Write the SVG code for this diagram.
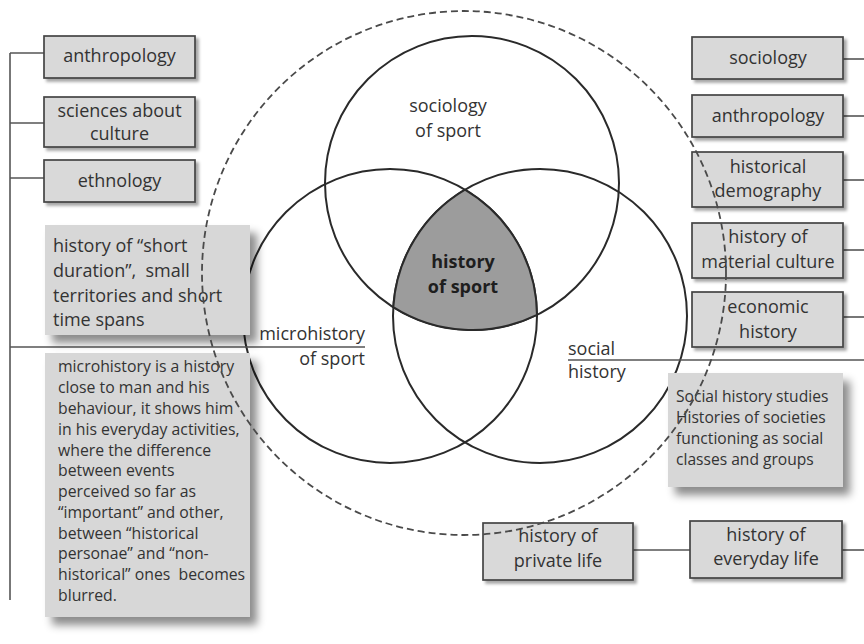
<svg xmlns="http://www.w3.org/2000/svg" width="864" height="644" viewBox="0 0 864 644">
<defs>
<filter id="sh" x="-10%" y="-20%" width="130%" height="150%">
<feDropShadow dx="3" dy="3" stdDeviation="1.8" flood-color="#000" flood-opacity="0.35"/>
</filter>
<filter id="shbig" x="-10%" y="-10%" width="130%" height="130%">
<feDropShadow dx="7" dy="8" stdDeviation="4.5" flood-color="#000" flood-opacity="0.45"/>
</filter>
</defs>
<style>
text{font-family:"Open Sans","Noto Sans","Liberation Sans",sans-serif;fill:#333;white-space:pre}
.lb{font-size:18px;text-anchor:middle}
.big{font-size:18px}
.sm{font-size:15.8px}
.box{fill:#d9d9d9;stroke:#444;stroke-width:1.7}
.tbox{fill:#d7d7d7}
.ln{stroke:#555;stroke-width:1.6;fill:none}
.circ{fill:none;stroke:#2a2a2a;stroke-width:2}
</style>
<rect width="864" height="644" fill="#fff"/>

<g id="venn">
<circle class="circ" cx="472" cy="183" r="147"/>
<circle class="circ" cx="390" cy="316" r="147"/>
<circle class="circ" cx="540" cy="316" r="147"/>
<path d="M465,189.6 A147,147 0 0,0 393.3,307.1 A147,147 0 0,0 537,314.9 A147,147 0 0,0 465,189.6 Z" fill="#9c9c9c" stroke="#2a2a2a" stroke-width="2"/>
<text class="lb" x="448" y="112">sociology</text>
<text class="lb" x="448" y="137">of sport</text>
<text class="lb" x="463" y="268" style="font-weight:bold;fill:#1e1e1e">history</text>
<text class="lb" x="463" y="293" style="font-weight:bold;fill:#1e1e1e">of sport</text>
</g>

<g id="connectors">
<line class="ln" x1="10" y1="53" x2="10" y2="600"/>
<line class="ln" x1="10" y1="53" x2="44" y2="53"/>
<line class="ln" x1="10" y1="123" x2="44" y2="123"/>
<line class="ln" x1="10" y1="178" x2="44" y2="178"/>
<line class="ln" x1="10" y1="347" x2="365" y2="347"/>
<line class="ln" x1="843" y1="59" x2="864" y2="59"/>
<line class="ln" x1="843" y1="116" x2="864" y2="116"/>
<line class="ln" x1="843" y1="180" x2="864" y2="180"/>
<line class="ln" x1="843" y1="250" x2="864" y2="250"/>
<line class="ln" x1="843" y1="317" x2="864" y2="317"/>
<line class="ln" x1="568" y1="360" x2="864" y2="360"/>
<line class="ln" x1="633" y1="550" x2="690" y2="550"/>
<line class="ln" x1="842" y1="550" x2="864" y2="550"/>
</g>

<g id="micro-label">
<text x="365" y="340" style="font-size:18px;text-anchor:end">microhistory</text>
<text x="365" y="365" style="font-size:18px;text-anchor:end">of sport</text>
</g>
<g id="social-label">
<text x="568" y="355" style="font-size:18px">social</text>
<text x="568" y="378" style="font-size:18px">history</text>
</g>

<g id="l-anthropology">
<rect class="box" x="44" y="36" width="151" height="42" filter="url(#sh)"/>
<text class="lb" x="119.5" y="62">anthropology</text>
</g>
<g id="l-sciences">
<rect class="box" x="44" y="97" width="151" height="50" filter="url(#sh)"/>
<text class="lb" x="119.5" y="117">sciences about</text>
<text class="lb" x="119.5" y="140">culture</text>
</g>
<g id="l-ethnology">
<rect class="box" x="44" y="160" width="151" height="42" filter="url(#sh)"/>
<text class="lb" x="119.5" y="187">ethnology</text>
</g>

<g id="short-duration">
<rect class="tbox" x="45" y="225" width="205" height="110" filter="url(#shbig)"/>
<text class="big" x="53" y="252">history of “short</text>
<text class="big" x="53" y="277">duration”,  small</text>
<text class="big" x="53" y="302">territories and short</text>
<text class="big" x="53" y="326">time spans</text>
</g>

<g id="micro-text">
<rect class="tbox" x="45" y="353" width="205" height="264" filter="url(#shbig)"/>
<text class="sm" x="58" y="372">microhistory is a history</text>
<text class="sm" x="58" y="393">close to man and his</text>
<text class="sm" x="58" y="414">behaviour, it shows him</text>
<text class="sm" x="58" y="434.5">in his everyday activities,</text>
<text class="sm" x="58" y="455.5">where the difference</text>
<text class="sm" x="58" y="476">between events</text>
<text class="sm" x="58" y="497">perceived so far as</text>
<text class="sm" x="58" y="517.5">“important” and other,</text>
<text class="sm" x="58" y="538.5">between “historical</text>
<text class="sm" x="58" y="559">personae” and “non-</text>
<text class="sm" x="58" y="580">historical” ones  becomes</text>
<text class="sm" x="58" y="601">blurred.</text>
</g>

<g id="r-sociology">
<rect class="box" x="692" y="37" width="151" height="42" filter="url(#sh)"/>
<text class="lb" x="768" y="64">sociology</text>
</g>
<g id="r-anthropology">
<rect class="box" x="692" y="95" width="151" height="42" filter="url(#sh)"/>
<text class="lb" x="768" y="122">anthropology</text>
</g>
<g id="r-demography">
<rect class="box" x="692" y="152" width="151" height="55" filter="url(#sh)"/>
<text class="lb" x="768" y="173">historical</text>
<text class="lb" x="768" y="197">demography</text>
</g>
<g id="r-material">
<rect class="box" x="692" y="223" width="151" height="55" filter="url(#sh)"/>
<text class="lb" x="768" y="243">history of</text>
<text class="lb" x="768" y="268">material culture</text>
</g>
<g id="r-economic">
<rect class="box" x="692" y="292" width="151" height="55" filter="url(#sh)"/>
<text class="lb" x="768" y="313">economic</text>
<text class="lb" x="768" y="338">history</text>
</g>

<g id="social-text">
<rect class="tbox" x="668" y="373" width="175" height="114" filter="url(#shbig)"/>
<text class="sm" x="676" y="402" style="font-size:15.6px">Social history studies</text>
<text class="sm" x="676" y="423" style="font-size:15.6px">Histories of societies</text>
<text class="sm" x="676" y="444" style="font-size:15.6px">functioning as social</text>
<text class="sm" x="676" y="465" style="font-size:15.6px">classes and groups</text>
</g>

<g id="b-private">
<rect class="box" x="483" y="523" width="150" height="57" filter="url(#sh)"/>
<text class="lb" x="558" y="542">history of</text>
<text class="lb" x="558" y="567">private life</text>
</g>
<g id="b-everyday">
<rect class="box" x="690" y="521" width="152" height="57" filter="url(#sh)"/>
<text class="lb" x="766" y="541">history of</text>
<text class="lb" x="766" y="565">everyday life</text>
</g>

<g id="outer-dashed">
<circle cx="464" cy="273" r="262" fill="none" stroke="#4a4a4a" stroke-width="1.8" stroke-dasharray="7,4"/>
</g>
</svg>
